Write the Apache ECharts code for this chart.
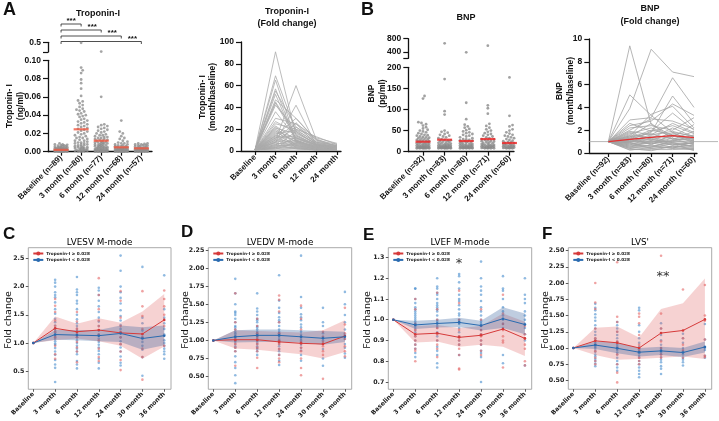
<!DOCTYPE html>
<html><head><meta charset="utf-8">
<script src="https://cdn.jsdelivr.net/npm/echarts@6/dist/echarts.min.js"></script>
<style>html,body{margin:0;padding:0;background:#fff}#c{width:719px;height:421px}</style>
</head><body><div id="c"></div>
<script>
// ---------- categories ----------
const tropCats = ['Baseline (n=89)','3 month (n=80)','6 month (n=77)','12 month (n=68)','24 month (n=57)'];
const tropFoldCats = ['Baseline','3 month','6 month','12 month','24 month'];
const bnpCats = ['Baseline (n=92)','3 month (n=83)','6 month (n=80)','12 month (n=71)','24 month (n=60)'];
const echoCats = ['Baseline','3 month','6 month','12 month','24 month','30 month','36 month'];
const legendHi = 'Troponin-I \u2265 0.028';
const legendLo = 'Troponin-I < 0.028';

// ---------- Troponin-I (ng/ml) ----------
const tropBaseline = [0.009,0.008,0.008,0.0075,0.007,0.007,0.0065,0.006,0.006,0.0055,0.005,0.005,0.005,0.0045,0.0045,0.004,0.004,0.004,0.0035,0.0035,0.0035,0.003,0.003,0.003,0.003,0.0025,0.0025,0.0025,0.0025,0.002,0.002,0.002,0.002,0.002,0.0015,0.0015,0.0015,0.0015,0.001,0.001,0.001,0.001,0.001,0.001,0.0005,0.0005,0.0005,0.0005,0.0005,0,0,0,0,0,0,0];
const trop3m = [0.48,0.092,0.089,0.086,0.079,0.075,0.069,0.061,0.056,0.055,0.053,0.051,0.049,0.047,0.046,0.045,0.044,0.042,0.041,0.04,0.039,0.038,0.036,0.035,0.034,0.033,0.032,0.031,0.03,0.029,0.028,0.027,0.026,0.025,0.024,0.023,0.022,0.021,0.02,0.019,0.018,0.017,0.016,0.015,0.015,0.014,0.013,0.012,0.012,0.011,0.01,0.01,0.009,0.009,0.008,0.008,0.007,0.007,0.006,0.006,0.005,0.005,0.005,0.004,0.004,0.004,0.003,0.003,0.003,0.002,0.002,0.002,0.002,0.001,0.001,0.001,0.001,0.0005,0.0005,0];
const trop6m = [0.13,0.06,0.03,0.029,0.028,0.027,0.026,0.025,0.024,0.023,0.022,0.021,0.02,0.019,0.018,0.018,0.017,0.016,0.016,0.015,0.015,0.014,0.014,0.013,0.013,0.012,0.012,0.011,0.011,0.01,0.01,0.01,0.009,0.009,0.009,0.008,0.008,0.008,0.007,0.007,0.007,0.006,0.006,0.006,0.005,0.005,0.005,0.005,0.004,0.004,0.004,0.004,0.003,0.003,0.003,0.003,0.003,0.002,0.002,0.002,0.002,0.002,0.0015,0.0015,0.001,0.001,0.001,0.001,0.0005,0.0005,0.0005,0,0,0,0,0,0];
const trop12m = [0.034,0.022,0.02,0.017,0.015,0.014,0.012,0.011,0.01,0.009,0.009,0.008,0.008,0.007,0.007,0.006,0.006,0.006,0.005,0.005,0.005,0.005,0.004,0.004,0.004,0.004,0.004,0.003,0.003,0.003,0.003,0.003,0.003,0.0025,0.0025,0.002,0.002,0.002,0.002,0.002,0.002,0.0015,0.0015,0.0015,0.001,0.001,0.001,0.001,0.001,0.001,0.0005,0.0005,0.0005,0.0005,0,0,0,0,0,0];
const trop24m = [0.009,0.009,0.0085,0.008,0.008,0.0075,0.007,0.007,0.0065,0.006,0.006,0.0055,0.005,0.005,0.0045,0.004,0.004,0.004,0.0035,0.0035,0.003,0.003,0.003,0.003,0.0025,0.0025,0.0025,0.002,0.002,0.002,0.002,0.002,0.0015,0.0015,0.0015,0.001,0.001,0.001,0.001,0.001,0.0005,0.0005,0.0005,0.0005,0,0,0,0,0];
const tropMeans = [0.002,0.0245,0.012,0.0048,0.0037];
const tropYTicks = [0,0.02,0.04,0.06,0.08,0.10];

// ---------- Troponin-I fold change (one row per patient) ----------
const tropFold = [
[1,91,14,5,3],[1,69,18,6,4],[1,65,10,4,2],[1,57,9,3,2],[1,55,22,8,5],[1,52,8,3,2],[1,47,30,10,6],[1,45,15,5,3],
[1,44,12,6,3],[1,42,20,7,4],[1,36,12,4,2],[1,30,25,6,3],[1,25,20,13,6],[1,23,10,3,2],[1,21,16,7,4],[1,20,8,2,1],
[1,18,12,5,3],[1,17,9,4,2],[1,16,19,8,5],[1,15,6,3,1],[1,14,11,5,2],[1,13,5,2,1],[1,12,14,6,3],[1,11,7,3,2],
[1,10,4,2,1],[1,9,9,4,2],[1,8,3,2,1],[1,7,6,2,1],[1,6,2,1,1],[1,5,5,2,1],[1,4,3,1,1],[1,3,2,1,1],
[1,10,60,10,4],[1,8,42,5,3],[1,5,26,8,3],[1,8,22,11,4],[1,4,18,6,2],[1,3,13,5,2],[1,19,3,1,1],[1,22,5,2,1],
[1,6,10,3,1],[1,2,7,2,1],[1,12,25,12,7],[1,2,4,1,1],[1,1,2,1,1],[1,3,8,4,2],[1,14,30,9,5],[1,27,17,6,3]
];

// ---------- BNP (pg/ml) ----------
const bnpBaseline = [132,126,70,68,65,62,58,55,52,50,48,46,44,42,40,39,38,36,35,34,33,32,31,30,29,28,27,26,25,25,24,23,22,21,20,20,19,18,18,17,16,16,15,15,14,14,13,13,12,12,12,11,11,11,10,10,10,10,9,9,9,9,8,8,8,8,8,8];
const bnp3m = [658,172,96,88,50,47,45,42,40,38,36,34,32,30,28,27,26,25,24,23,22,21,20,19,18,18,17,16,16,15,15,14,14,13,13,12,12,12,11,11,11,10,10,10,10,9,9,9,9,8,8,8,8,8,8];
const bnp6m = [382,116,77,64,60,57,54,51,48,46,44,42,40,38,36,34,32,30,29,28,27,26,25,24,23,22,21,20,19,18,18,17,16,16,15,15,14,14,13,13,12,12,12,11,11,11,10,10,10,10,9,9,9,9,8,8,8,8,8];
const bnp12m = [585,110,103,90,66,61,57,53,50,47,44,42,40,38,36,34,32,30,29,28,27,26,25,24,23,22,21,20,19,18,17,16,16,15,15,14,14,13,13,12,12,11,11,10,10,10,9,9,9,8,8,8,8];
const bnp24m = [176,85,63,60,53,50,46,43,40,38,36,34,32,30,28,26,25,24,23,22,21,20,19,18,17,16,16,15,15,14,14,13,13,12,12,11,11,10,10,10,9,9,9,8,8,8,8];
const bnpMeans = [23.7,28.4,25.3,30.0,20.6];

// ---------- BNP fold change (one row per patient) ----------
const bnpFold = [
[1,9.4,2.5,1.5,1.2],[1,3.9,9.1,7.1,6.7],[1,5.1,3.3,1.8,1.5],[1,2.9,3.1,6.6,4.0],[1,1.2,1.8,5.0,2.6],[1,2.4,2.8,4.3,3.3],
[1,1.5,3.4,4.1,2.2],[1,2.6,1.9,3.5,2.0],[1,2.2,2.4,2.0,3.1],[1,1.9,1.6,2.6,1.8],[1,1.7,2.2,1.4,2.5],[1,1.6,1.3,2.2,1.4],
[1,1.4,1.7,1.2,1.9],[1,1.3,1.1,1.8,1.0],[1,1.2,1.4,1.0,1.6],[1,1.1,0.9,1.5,1.2],[1,1.0,1.2,0.9,0.8],[1,0.9,0.8,1.1,1.3],
[1,0.8,1.0,0.7,0.9],[1,0.7,0.6,0.9,0.6],[1,0.6,0.9,0.5,0.7],[1,0.5,0.4,0.6,0.5],[1,0.4,0.7,0.4,0.3],[1,0.3,0.3,0.3,0.4],
[1,0.25,0.5,0.8,0.2],[1,0.9,1.5,1.3,1.1],[1,1.3,2.0,1.6,0.9],[1,0.6,0.5,1.1,0.8],[1,1.8,1.2,0.8,0.6],[1,0.8,0.6,0.4,1.0],
[1,1.1,1.9,2.4,1.7],[1,0.4,0.2,0.6,0.4],[1,0.7,1.3,0.9,0.5],[1,1.5,0.7,1.7,1.2],[1,2.0,3.0,2.8,2.1],[1,1.2,0.8,1.3,0.7],
[1,0.5,1.1,0.7,0.9],[1,1.0,1.6,1.9,1.4],[1,0.9,0.4,0.5,0.3],[1,1.4,2.6,1.2,1.1]
];
const bnpFoldMean = [1.0,1.2,1.37,1.52,1.35];

// ---------- Echo: LVESV (C) ----------
const lvesvHiMean = [1.00,1.26,1.20,1.23,1.18,1.16,1.41];
const lvesvLoMean = [1.00,1.15,1.14,1.13,1.17,1.08,1.13];
const lvesvHiUp = [1.00,1.47,1.34,1.44,1.36,1.56,1.87];
const lvesvHiLo = [1.00,1.05,1.08,1.03,0.95,0.72,0.94];
const lvesvLoUp = [1.00,1.23,1.23,1.23,1.31,1.28,1.31];
const lvesvLoLo = [1.00,1.06,1.05,1.03,1.02,0.88,0.96];
const lvesvHiPts = [[1.0],[1.78,1.66,1.55,1.40,1.30,1.20,1.10,0.95,0.80,0.72],[1.55,1.38,1.25,1.18,1.10,1.02,0.92,0.85,0.66],[2.15,1.85,1.60,1.40,1.30,1.15,1.05,0.90,0.75,0.68],[1.92,1.75,1.45,1.30,1.20,1.10,0.98,0.85,0.70,0.52],[1.92,1.65,1.48,1.25,1.10,0.90,0.75,0.35],[1.93,1.78,1.65,1.50,1.30,0.95]];
const lvesvLoPts = [[1.0],[2.12,2.07,2.00,1.90,1.85,1.81,1.72,1.60,1.52,1.43,1.37,1.31,1.26,1.23,1.19,1.14,1.11,1.07,1.03,0.99,0.97,0.91,0.85,0.79,0.70,0.62,0.56,0.31],[2.17,1.95,1.90,1.85,1.75,1.70,1.60,1.50,1.42,1.35,1.30,1.25,1.20,1.15,1.10,1.05,1.00,0.95,0.90,0.85,0.80,0.68,0.62,0.55],[1.98,1.93,1.85,1.75,1.65,1.55,1.45,1.38,1.30,1.22,1.15,1.08,1.02,0.97,0.92,0.86,0.80,0.72,0.65,0.55],[2.55,2.28,2.00,1.90,1.80,1.70,1.58,1.48,1.40,1.32,1.25,1.18,1.10,1.03,0.98,0.92,0.85,0.76,0.65,0.60],[2.35,1.45,1.35,1.22,1.15,1.10,1.02,0.95,0.88,0.75,0.42],[2.20,1.60,1.45,1.35,1.25,1.15,1.05,1.00,0.95,0.90,0.85,0.80,0.72]];
const lvesvTicks = [0.5,1.0,1.5,2.0,2.5];

// ---------- Echo: LVEDV (D) ----------
const lvedvHiMean = [1.00,1.01,1.01,0.98,0.96,0.95,1.06];
const lvedvLoMean = [1.00,1.05,1.07,1.07,1.05,1.03,1.05];
const lvedvHiUp = [1.00,1.14,1.13,1.12,1.11,1.14,1.28];
const lvedvHiLo = [1.00,0.89,0.87,0.84,0.81,0.75,0.84];
const lvedvLoUp = [1.00,1.14,1.15,1.15,1.14,1.13,1.12];
const lvedvLoLo = [1.00,0.97,0.98,0.98,0.97,0.94,0.98];
const lvedvHiPts = [[1.0],[1.65,1.25,1.15,1.05,1.00,0.95,0.90,0.85,0.65],[1.30,1.20,1.10,1.05,1.00,0.95,0.90,0.85,0.76,0.62],[1.62,1.56,1.40,1.25,1.10,1.00,0.95,0.88,0.80,0.75,0.70],[1.48,1.30,1.15,1.05,0.98,0.90,0.85,0.75,0.62,0.52],[1.12,1.05,0.98,0.92,0.85,0.80,0.47],[1.45,1.22,1.10,1.02,0.92,0.85,0.78]];
const lvedvLoPts = [[1.0],[1.85,1.65,1.50,1.40,1.38,1.35,1.30,1.25,1.20,1.18,1.15,1.12,1.10,1.08,1.05,1.02,1.00,0.98,0.95,0.92,0.90,0.85,0.78,0.70,0.62,0.52,0.41],[1.65,1.44,1.40,1.35,1.30,1.28,1.25,1.20,1.18,1.15,1.12,1.10,1.08,1.05,1.02,1.00,0.97,0.95,0.92,0.90,0.88,0.85,0.80],[1.90,1.55,1.45,1.38,1.32,1.28,1.25,1.20,1.15,1.12,1.10,1.08,1.05,1.02,1.00,0.98,0.95,0.92,0.88,0.85,0.80,0.72,0.66],[2.17,1.60,1.45,1.36,1.32,1.28,1.22,1.18,1.12,1.08,1.05,1.02,1.00,0.97,0.94,0.90,0.86,0.80,0.72],[1.45,1.25,1.20,1.10,1.05,1.00,0.95,0.88,0.75,0.65],[1.67,1.50,1.35,1.25,1.15,1.08,1.02,0.95,0.90,0.82,0.76]];
const lvedvTicks = [0.5,0.75,1.0,1.25,1.5,1.75,2.0,2.25];

// ---------- Echo: LVEF (E) ----------
const lvefHiMean = [1.00,0.93,0.935,0.915,0.925,0.955,0.91];
const lvefLoMean = [1.00,0.975,0.982,0.987,0.972,1.005,0.977];
const lvefHiUp = [1.00,0.97,0.975,0.96,0.97,1.03,0.99];
const lvefHiLo = [1.00,0.89,0.895,0.87,0.88,0.87,0.825];
const lvefLoUp = [1.00,0.995,1.00,1.01,0.995,1.06,1.03];
const lvefLoLo = [1.00,0.955,0.962,0.965,0.948,0.96,0.93];
const lvefHiPts = [[1.0],[1.10,1.05,0.98,0.95,0.92,0.90,0.88,0.86,0.85,0.80],[1.13,1.05,1.00,0.96,0.93,0.90,0.88,0.86,0.82],[1.14,1.08,1.00,0.95,0.92,0.90,0.88,0.86,0.83,0.765,0.76],[1.05,1.00,0.97,0.95,0.93,0.92,0.90,0.88,0.85,0.83],[1.12,1.03,0.98,0.95,0.92,0.90,0.89,0.77],[0.97,0.93,0.91,0.88,0.86,0.80,0.78]];
const lvefLoPts = [[1.0],[1.15,1.15,1.10,1.08,1.06,1.05,1.04,1.03,1.02,1.01,1.00,0.99,0.98,0.97,0.96,0.95,0.94,0.92,0.90,0.88,0.86,0.84,0.82],[1.20,1.16,1.15,1.13,1.12,1.10,1.08,1.07,1.06,1.05,1.04,1.02,1.00,0.99,0.97,0.96,0.94,0.92,0.90,0.87,0.85,0.83,0.79,0.77],[1.22,1.21,1.18,1.15,1.12,1.10,1.09,1.07,1.05,1.03,1.02,1.00,0.99,0.98,0.96,0.94,0.92,0.90,0.88,0.83],[1.28,1.20,1.16,1.14,1.12,1.09,1.06,1.04,1.02,1.00,0.99,0.98,0.97,0.95,0.93,0.90,0.88,0.85,0.84,0.82,0.70],[1.21,1.15,1.14,1.10,1.06,1.04,1.02,1.00,0.98,0.96,0.83,0.79],[1.20,1.12,1.10,1.08,1.04,1.02,1.00,0.98,0.96,0.93,0.90,0.78]];
const lvefTicks = [0.7,0.8,0.9,1.0,1.1,1.2,1.3];

// ---------- Echo: LVS' (F) ----------
const lvsHiMean = [1.00,1.11,1.08,1.00,1.23,1.27,1.44];
const lvsLoMean = [1.00,1.045,0.995,0.935,0.955,0.93,1.015];
const lvsHiUp = [1.00,1.31,1.33,1.16,1.60,1.69,2.07];
const lvsHiLo = [1.00,0.89,0.82,0.83,0.85,0.87,0.83];
const lvsLoUp = [1.00,1.10,1.08,1.00,1.02,1.00,1.10];
const lvsLoLo = [1.00,0.985,0.92,0.87,0.89,0.86,0.93];
const lvsHiPts = [[1.0],[2.00,1.70,1.60,1.30,1.15,1.05,0.95,0.85,0.80,0.75],[2.32,1.48,1.40,1.25,1.10,1.00,0.90,0.75,0.62,0.47],[1.53,1.48,1.38,1.20,1.05,0.95,0.85,0.80,0.75],[2.42,1.53,1.30,1.10,1.00,0.90,0.85],[1.90,1.15,1.05,0.97,0.85],[1.97,1.50,1.42,1.13,0.88,0.86]];
const lvsLoPts = [[1.0],[1.68,1.62,1.58,1.52,1.47,1.42,1.35,1.30,1.25,1.20,1.15,1.12,1.08,1.05,1.02,1.00,0.97,0.94,0.90,0.87,0.83,0.80,0.76,0.72],[1.40,1.35,1.30,1.25,1.20,1.15,1.10,1.05,1.02,1.00,0.97,0.93,0.90,0.85,0.80,0.75,0.70,0.65],[1.62,1.58,1.35,1.25,1.15,1.08,1.02,0.98,0.95,0.92,0.88,0.85,0.80,0.75,0.70,0.65,0.60,0.55],[1.38,1.30,1.20,1.12,1.05,1.00,0.97,0.93,0.90,0.86,0.82,0.78,0.72,0.68,0.60],[1.22,1.15,1.08,1.00,0.95,0.90,0.85,0.82,0.78,0.73],[1.37,1.13,1.02,1.00,0.97,0.88,0.85]];
const lvsTicks = [0.5,0.75,1.0,1.25,1.5,1.75,2.0,2.25,2.5];

// =====================================================================
const FP = '"Liberation Sans", Arial, sans-serif';
const FM = '"DejaVu Sans", sans-serif';
const chart = echarts.init(document.getElementById('c'), null, {renderer:'canvas'});

const grids = [
  {left:48, top:60.3, width:104, height:91.4},      // 0 A lower
  {left:48, top:42.3, width:104, height:9.8},       // 1 A upper
  {left:241, top:42, width:100, height:109},        // 2 A fold
  {left:408.3, top:67.3, width:105.7, height:84.4}, // 3 B lower
  {left:408.3, top:38.7, width:105.7, height:19.6}, // 4 B upper
  {left:589.3, top:39, width:107.7, height:114},    // 5 B fold
  {left:28.3, top:247.7, width:142.7, height:144},  // 6 C
  {left:208.3, top:247.7, width:143.4, height:144}, // 7 D
  {left:388.3, top:247.7, width:143.4, height:144}, // 8 E
  {left:568.3, top:247.7, width:143.4, height:144}  // 9 F
];
grids.forEach((g,i)=>{ if(i>=6){ g.show=true; g.borderColor='#a0a0a0'; g.borderWidth=0.9; } });

const idx5 = [0,1,2,3,4], idx7 = [0,1,2,3,4,5,6];
function prismX(gi, min, max, labels, show){
  if(show===false) return {gridIndex:gi, type:'value', min, max, show:false};
  return {gridIndex:gi, type:'value', min, max,
    axisLine:{show:true, onZero:false, lineStyle:{color:'#111', width:1.3}},
    axisTick:{show:true, customValues:idx5, length:4, lineStyle:{color:'#111', width:1.2}},
    axisLabel:{customValues:idx5, formatter:v=>labels[Math.round(v)], rotate:45, margin:5,
      fontFamily:FP, fontWeight:'bold', fontSize:8, color:'#111'},
    splitLine:{show:false}};
}
function prismY(gi, min, max, tickVals, labelVals, fmt){
  return {gridIndex:gi, type:'value', min, max,
    axisLine:{show:true, onZero:false, lineStyle:{color:'#111', width:1.3}},
    axisTick:{show:true, customValues:tickVals, length:5, lineStyle:{color:'#111', width:1.2}},
    axisLabel:{customValues:labelVals, formatter:fmt, margin:7, fontFamily:FP, fontWeight:'bold', fontSize:8.5, color:'#111'},
    splitLine:{show:false}};
}
function echoX(gi){
  return {gridIndex:gi, type:'value', min:-0.23, max:6.31,
    axisLine:{show:false, onZero:false},
    axisTick:{show:true, customValues:idx7, length:2.5, lineStyle:{color:'#333', width:0.8}},
    axisLabel:{customValues:idx7, formatter:v=>echoCats[Math.round(v)], rotate:45, margin:4,
      fontFamily:FM, fontWeight:'bold', fontSize:6.2, color:'#222'},
    splitLine:{show:false}};
}
function echoY(gi, min, max, ticks, dec){
  return {gridIndex:gi, type:'value', min, max,
    axisLine:{show:false, onZero:false},
    axisTick:{show:true, customValues:ticks, length:2.5, lineStyle:{color:'#333', width:0.8}},
    axisLabel:{customValues:ticks, formatter:v=>v.toFixed(dec), margin:4,
      fontFamily:FM, fontWeight:'bold', fontSize:6.3, color:'#222'},
    splitLine:{show:false}};
}

const xAxes = [
  prismX(0,-0.65,4.53,tropCats),
  prismX(1,-0.65,4.53,tropCats,false),
  prismX(2,-0.683,4.195,tropFoldCats),
  prismX(3,-0.68,4.21,bnpCats),
  prismX(4,-0.68,4.21,bnpCats,false),
  prismX(5,-0.89,4.14,bnpCats),
  echoX(6), echoX(7), echoX(8), echoX(9)
];
const yAxes = [
  prismY(0,0,0.10,tropYTicks,tropYTicks,v=>v.toFixed(2)),
  prismY(1,0.11,0.5,[0.11,0.5],[0.5],v=>'0.5'),
  prismY(2,0,100,[0,20,40,60,80,100],[0,20,40,60,80,100],v=>String(Math.round(v))),
  prismY(3,0,200,[0,50,100,150,200],[0,50,100,150,200],v=>String(Math.round(v))),
  prismY(4,200,800,[200,400,800],[400,800],v=>String(Math.round(v))),
  prismY(5,0,10,[0,2,4,6,8,10],[0,2,4,6,8,10],v=>String(Math.round(v))),
  echoY(6,0.18,2.69,lvesvTicks,1),
  echoY(7,0.326,2.28,lvedvTicks,2),
  echoY(8,0.665,1.347,lvefTicks,1),
  echoY(9,0.364,2.545,lvsTicks,2)
];

// deterministic beeswarm layout (pixel offsets)
function swarm(vals, pxPerUnit, d, maxOff){
  const sorted = vals.slice().sort((a,b)=>a-b);
  const placed = [];
  const step = d*0.55;
  const n = Math.floor(maxOff/step);
  return sorted.map(v=>{
    const y = v*pxPerUnit;
    let best = 0, bestD = -1;
    for(let k=0;k<=2*n;k++){
      const off = k===0 ? 0 : Math.ceil(k/2)*step*(k%2 ? 1 : -1);
      let md = Infinity;
      for(const p of placed){ const dd = Math.hypot(p[0]-off, p[1]-y); if(dd<md) md=dd; }
      if(md >= d){ best = off; break; }
      if(md > bestD){ bestD = md; best = off; }
    }
    placed.push([best,y]);
    return [best, v];
  });
}

function swarmSeries(groups, cut, gLow, gHigh, xMin, xMax, yMaxLow, color){
  const g = grids[gLow];
  const pxX = g.width/(xMax-xMin);
  const pxY = g.height/yMaxLow;
  const low = [], high = [];
  groups.forEach((vals,i)=>{
    const lv = vals.filter(v=>v<=cut), hv = vals.filter(v=>v>cut);
    swarm(lv, pxY, 2.8, 6.5).forEach(([dx,v])=>low.push([i+dx/pxX, v]));
    hv.forEach(v=>high.push([i, v]));
  });
  const base = {type:'scatter', symbol:'circle', symbolSize:2.8, silent:true, itemStyle:{color:color}, z:3};
  return [
    Object.assign({}, base, {xAxisIndex:gLow, yAxisIndex:gLow, data:low}),
    Object.assign({}, base, {xAxisIndex:gHigh, yAxisIndex:gHigh, data:high})
  ];
}

const series = [];
// A scatter
series.push(...swarmSeries([tropBaseline,trop3m,trop6m,trop12m,trop24m], 0.1, 0, 1, -0.65, 4.53, 0.10, '#8e8e8e'));
series.push({type:'scatter', xAxisIndex:0, yAxisIndex:0, symbol:'rect', symbolSize:[15,2.2], silent:true, z:5,
  itemStyle:{color:'#f0563f'}, data:tropMeans.map((v,i)=>[i,v])});
// A fold lines
tropFold.forEach(row=>series.push({type:'line', xAxisIndex:2, yAxisIndex:2, symbol:'none', silent:true, z:2,
  lineStyle:{color:'#ababab', width:0.8}, data:row.map((v,i)=>[i,v])}));
// B scatter
series.push(...swarmSeries([bnpBaseline,bnp3m,bnp6m,bnp12m,bnp24m], 200, 3, 4, -0.68, 4.21, 200, '#8a8a8a'));
series.push({type:'scatter', xAxisIndex:3, yAxisIndex:3, symbol:'rect', symbolSize:[15,2.2], silent:true, z:5,
  itemStyle:{color:'#ee2222'}, data:bnpMeans.map((v,i)=>[i,v])});
// B fold lines
bnpFold.forEach(row=>series.push({type:'line', xAxisIndex:5, yAxisIndex:5, symbol:'none', silent:true, z:2,
  lineStyle:{color:'#a3a3a3', width:0.8}, data:row.map((v,i)=>[i,v])}));
series.push({type:'line', xAxisIndex:5, yAxisIndex:5, symbol:'none', silent:true, z:4,
  lineStyle:{color:'#e53030', width:1.3}, data:bnpFoldMean.map((v,i)=>[i,v])});

// Echo panels
const echoPanels = [
  {g:6, hiM:lvesvHiMean, loM:lvesvLoMean, hiU:lvesvHiUp, hiL:lvesvHiLo, loU:lvesvLoUp, loL:lvesvLoLo, hiP:lvesvHiPts, loP:lvesvLoPts},
  {g:7, hiM:lvedvHiMean, loM:lvedvLoMean, hiU:lvedvHiUp, hiL:lvedvHiLo, loU:lvedvLoUp, loL:lvedvLoLo, hiP:lvedvHiPts, loP:lvedvLoPts},
  {g:8, hiM:lvefHiMean, loM:lvefLoMean, hiU:lvefHiUp, hiL:lvefHiLo, loU:lvefLoUp, loL:lvefLoLo, hiP:lvefHiPts, loP:lvefLoPts},
  {g:9, hiM:lvsHiMean, loM:lvsLoMean, hiU:lvsHiUp, hiL:lvsHiLo, loU:lvsLoUp, loL:lvsLoLo, hiP:lvsHiPts, loP:lvsLoPts}
];
function band(gi, up, lo, color){
  return {type:'custom', xAxisIndex:gi, yAxisIndex:gi, silent:true, z:2, data:[[0, up[0]]],
    renderItem:(params, api)=>{
      const pts = [];
      up.forEach((v,i)=>pts.push(api.coord([i,v])));
      for(let i=lo.length-1;i>=0;i--) pts.push(api.coord([i,lo[i]]));
      return {type:'polygon', shape:{points:pts}, style:{fill:color}};
    }};
}
function pts(gi, groups, color){
  const data = [];
  groups.forEach((arr,i)=>arr.forEach(v=>data.push([i,v])));
  return {type:'scatter', xAxisIndex:gi, yAxisIndex:gi, symbolSize:2.6, silent:true, z:1, itemStyle:{color:color}, data};
}
echoPanels.forEach(p=>{
  series.push(pts(p.g, p.loP, 'rgba(70,140,205,0.75)'));
  series.push(pts(p.g, p.hiP, 'rgba(228,100,100,0.75)'));
  series.push(band(p.g, p.hiU, p.hiL, 'rgba(222,95,95,0.28)'));
  series.push(band(p.g, p.loU, p.loL, 'rgba(55,100,160,0.32)'));
  series.push({type:'line', name:legendHi, xAxisIndex:p.g, yAxisIndex:p.g, symbol:'circle', symbolSize:2.6, z:5,
    lineStyle:{color:'#d63a3a', width:1}, itemStyle:{color:'#d63a3a'}, data:p.hiM.map((v,i)=>[i,v])});
  series.push({type:'line', name:legendLo, xAxisIndex:p.g, yAxisIndex:p.g, symbol:'circle', symbolSize:2.6, z:5,
    lineStyle:{color:'#2a6bb0', width:1}, itemStyle:{color:'#2a6bb0'}, data:p.loM.map((v,i)=>[i,v])});
});

const legends = [6,7,8,9].map(gi=>({
  left: grids[gi].left + 2, top: 250.5, orient:'vertical', padding:[1,2,1,2], itemGap:2.4,
  itemWidth:10, itemHeight:5, selectedMode:false,
  textStyle:{fontFamily:FM, fontWeight:'bold', fontSize:4.2, color:'#222', padding:[0,0,0,-2]},
  data:[legendHi, legendLo]
}));

chart.setOption({
  animation:false, backgroundColor:'#fff',
  grid:grids, xAxis:xAxes, yAxis:yAxes, legend:legends, series:series
});

// ---------- annotations (positions through the library's scales) ----------
const P = (gi, pt) => chart.convertToPixel({gridIndex:gi}, pt);
const G = [];
function T(x, y, text, font, opt){
  G.push({type:'text', x, y, silent:true, style:Object.assign({text, font, fill:'#111', align:'center', verticalAlign:'middle'}, opt||{})});
}
function TR(x, y, text, font, lh){
  G.push({type:'text', x, y, rotation:Math.PI/2, silent:true,
    style:{text, font, fill:'#111', align:'center', verticalAlign:'middle', lineHeight:lh}});
}
// panel letters
T(3,1,'A','bold 18px '+FP,{align:'left',verticalAlign:'top'});
T(361,1,'B','bold 18px '+FP,{align:'left',verticalAlign:'top'});
T(3,226,'C','bold 17px '+FP,{align:'left',verticalAlign:'top'});
T(181,224,'D','bold 17px '+FP,{align:'left',verticalAlign:'top'});
T(363,227,'E','bold 17px '+FP,{align:'left',verticalAlign:'top'});
T(542,226,'F','bold 17px '+FP,{align:'left',verticalAlign:'top'});
// titles
T(98,14,'Troponin-I','bold 9px '+FP);
T(287,18,'Troponin-I\n(Fold change)','bold 9px '+FP,{lineHeight:12});
T(466,17.5,'BNP','bold 9px '+FP);
T(650,15,'BNP\n(Fold change)','bold 9px '+FP,{lineHeight:12.5});
// y-axis titles
TR(15.5,106,'Troponin- I\n(ng/ml)','bold 8.5px '+FP,11);
TR(207.5,97,'Troponin- I\n(month/baseline)','bold 8.5px '+FP,10.5);
TR(377,93.5,'BNP\n(pg/ml)','bold 8.5px '+FP,11);
TR(565,91,'BNP\n(month/baseline)','bold 8.5px '+FP,11);
[6,7,8,9].forEach((gi,k)=>{
  const lx = [9,186,367.5,546][k];
  TR(lx,320,'Fold change','9.5px '+FM,10);
  const g = grids[gi];
  T(g.left+g.width/2, 243, ['LVESV M-mode','LVEDV M-mode','LVEF M-mode',"LVS'"][k], '8.8px '+FM, {fill:'#000'});
});
// significance brackets (A)
const bY = [24,30,36,41.5];
for(let k=1;k<=4;k++){
  const x0 = P(0,[0,0.05])[0], x1 = P(0,[k,0.05])[0];
  const y = bY[k-1];
  G.push({type:'polyline', silent:true, shape:{points:[[x0,y+2.5],[x0,y],[x1,y],[x1,y+2.5]]}, style:{stroke:'#222', lineWidth:0.8, fill:null}});
  const sx = k===1 ? (x0+x1)/2 : x1-9;
  T(sx, y-3.2, '***', 'bold 8px '+FP);
}
// reference line at fold change = 1 (B)
const ref = P(5,[0,1]);
G.push({type:'line', silent:true, z:1, shape:{x1:grids[5].left, y1:ref[1], x2:718, y2:ref[1]}, style:{stroke:'#b8b8b8', lineWidth:1}});
// stars (E, F)
const s1 = P(8,[3,1.27]); T(s1[0], s1[1], '*', '13px '+FM, {fill:'#333'});
const s2 = P(9,[4,2.1]); T(s2[0]+2, s2[1], '**', '13px '+FM, {fill:'#333'});

chart.setOption({graphic:G});
</script>
</body></html>
